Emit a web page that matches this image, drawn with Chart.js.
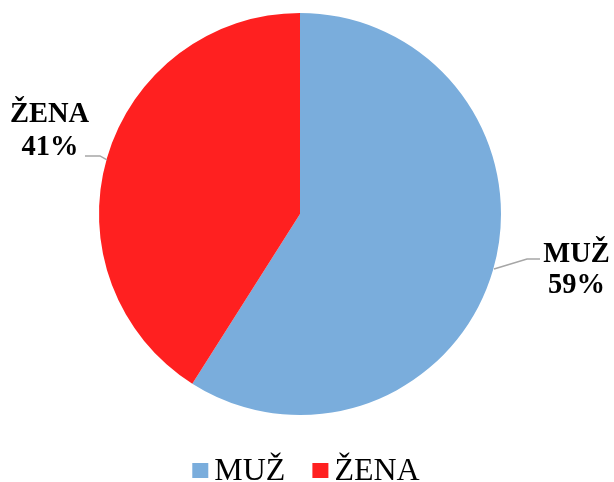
<!DOCTYPE html>
<html>
<head>
<meta charset="utf-8">
<script src="https://cdn.jsdelivr.net/npm/chart.js@4"></script>
<style>
html,body{margin:0;padding:0;background:#fff;}
#wrap{width:614px;height:482px;}
</style>
</head>
<body>
<div id="wrap"><canvas id="c" width="614" height="482"></canvas></div>
<script>
const categories = ['MUŽ', 'ŽENA'];
const values = [59, 41];
const percentLabels = ['59%', '41%'];
const colors = ['#7aaddc', '#ff2020'];

const SERIF = '"Liberation Serif", "Times New Roman", serif';

const labelPlugin = {
  id: 'pieLabels',
  afterDatasetsDraw(chart) {
    const ctx = chart.ctx;
    const meta = chart.getDatasetMeta(0);
    ctx.save();
    ctx.font = 'bold 28.5px ' + SERIF;
    ctx.fillStyle = '#000';
    ctx.textAlign = 'center';
    ctx.textBaseline = 'alphabetic';
    ctx.strokeStyle = '#a6a6a6';
    ctx.lineWidth = 1.5;
    meta.data.forEach((arc, i) => {
      const p = arc.getProps(['x','y','startAngle','endAngle','outerRadius'], true);
      const mid = (p.startAngle + p.endAngle) / 2;
      const ex = p.x + Math.cos(mid) * p.outerRadius;
      const ey = p.y + Math.sin(mid) * p.outerRadius;
      const right = Math.cos(mid) >= 0;
      ctx.beginPath();
      if (right) {
        ctx.moveTo(ex + 1, ey - 1);
        ctx.lineTo(ex + 34, ey - 11);
        ctx.lineTo(ex + 47, ey - 11);
        ctx.stroke();
        ctx.fillText(categories[i], ex + 83.5, ey - 8);
        ctx.fillText(percentLabels[i], ex + 83.5, ey + 23);
      } else {
        ctx.moveTo(ex, ey + 2);
        ctx.lineTo(ex - 7, ey - 2);
        ctx.lineTo(ex - 22, ey - 2);
        ctx.stroke();
        ctx.fillText(categories[i], ex - 57.5, ey - 36);
        ctx.fillText(percentLabels[i], ex - 57, ey - 3);
      }
    });
    ctx.restore();
  }
};

const legendPlugin = {
  id: 'customLegend',
  afterDraw(chart) {
    const ctx = chart.ctx;
    const ds = chart.data.datasets[0];
    const labels = chart.data.labels;
    const box = 16, gapText = 6, gapItem = 27;
    ctx.save();
    ctx.font = '32px ' + SERIF;
    ctx.textBaseline = 'alphabetic';
    ctx.textAlign = 'left';
    const widths = labels.map(t => ctx.measureText(t).width);
    let total = 0;
    widths.forEach((w, i) => { total += box + gapText + w + (i < widths.length - 1 ? gapItem : 0); });
    let x = 306 - total / 2;
    const baseline = 480;
    labels.forEach((t, i) => {
      ctx.fillStyle = ds.backgroundColor[i];
      ctx.fillRect(x, 463, box, 15);
      ctx.fillStyle = '#000';
      ctx.fillText(t, x + box + gapText, baseline);
      x += box + gapText + widths[i] + gapItem;
    });
    ctx.restore();
  }
};

new Chart(document.getElementById('c'), {
  type: 'pie',
  data: {
    labels: categories,
    datasets: [{
      data: values,
      backgroundColor: colors,
      borderWidth: 0
    }]
  },
  options: {
    responsive: false,
    animation: false,
    layout: { padding: { top: 13, bottom: 67, left: 0, right: 14 } },
    plugins: {
      tooltip: { enabled: false },
      legend: { display: false }
    }
  },
  plugins: [labelPlugin, legendPlugin]
});
</script>
</body>
</html>
